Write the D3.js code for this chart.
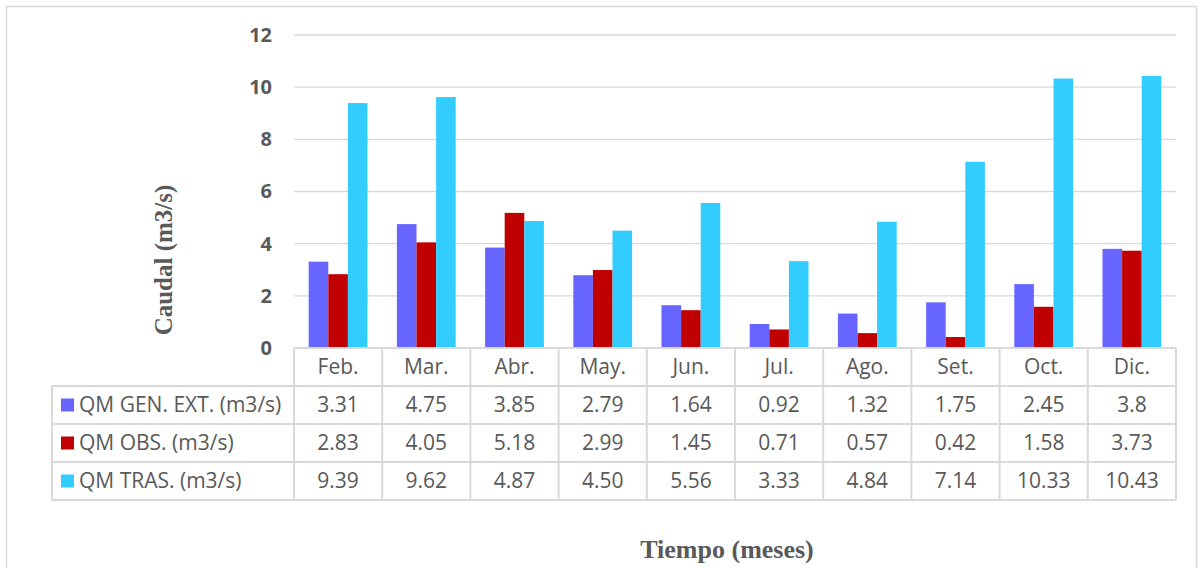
<!DOCTYPE html>
<html>
<head>
<meta charset="utf-8">
<script src="https://cdn.jsdelivr.net/npm/d3@7"></script>
<style>
  body { margin: 0; background: #fff; }
  svg { display: block; }
</style>
</head>
<body>
<script>
const width = 1203;
const height = 568;

const months = ['Feb.', 'Mar.', 'Abr.', 'May.', 'Jun.', 'Jul.', 'Ago.', 'Set.', 'Oct.', 'Dic.'];
const seriesNames = ['QM GEN. EXT. (m3/s)', 'QM OBS. (m3/s)', 'QM TRAS. (m3/s)'];
const genExt = [3.31, 4.75, 3.85, 2.79, 1.64, 0.92, 1.32, 1.75, 2.45, 3.8];
const obs = [2.83, 4.05, 5.18, 2.99, 1.45, 0.71, 0.57, 0.42, 1.58, 3.73];
const tras = [9.39, 9.62, 4.87, 4.50, 5.56, 3.33, 4.84, 7.14, 10.33, 10.43];
const tableText = [
    ['3.31', '4.75', '3.85', '2.79', '1.64', '0.92', '1.32', '1.75', '2.45', '3.8'],
    ['2.83', '4.05', '5.18', '2.99', '1.45', '0.71', '0.57', '0.42', '1.58', '3.73'],
    ['9.39', '9.62', '4.87', '4.50', '5.56', '3.33', '4.84', '7.14', '10.33', '10.43']
];
const yTicks = [0, 2, 4, 6, 8, 10, 12];
const colors = ['#6666ff', '#c00000', '#33ccff'];
const series = [genExt, obs, tras];

const plotLeft = 294, plotRight = 1176, plotTop = 35, plotBottom = 348;
const rowH = 38;
const tableLeft = 52;
const gridColor = '#d9d9d9';
const textColor = '#595959';

const svg = d3.select('body').append('svg')
    .attr('width', width)
    .attr('height', height);

// outer frame
svg.append('rect')
    .attr('x', 6.5).attr('y', 6.5)
    .attr('width', 1190).attr('height', 600)
    .attr('fill', 'none')
    .attr('stroke', gridColor)
    .attr('stroke-width', 1.5);

const x = d3.scaleBand().domain(months).range([plotLeft, plotRight]);
const xInner = d3.scaleBand().domain(d3.range(3)).range([0, x.bandwidth()]).paddingInner(0).paddingOuter(0.75);
const y = d3.scaleLinear().domain([0, 12]).range([plotBottom, plotTop]);

// gridlines
svg.append('g')
    .selectAll('line')
    .data(yTicks.filter(d => d > 0))
    .enter()
    .append('line')
    .attr('x1', plotLeft)
    .attr('x2', plotRight)
    .attr('y1', d => y(d))
    .attr('y2', d => y(d))
    .attr('stroke', gridColor)
    .attr('stroke-width', 1.3);

// y axis labels
const yAxis = d3.axisLeft(y).tickValues(yTicks).tickSize(0).tickPadding(0);
const yg = svg.append('g')
    .attr('transform', `translate(${plotLeft - 22}, 0)`)
    .call(yAxis);
yg.select('.domain').remove();
yg.selectAll('text')
    .attr('fill', textColor)
    .style('font-family', '"Open Sans", sans-serif')
    .style('font-weight', 'bold')
    .style('font-size', '20px');

// bars
series.forEach((vals, s) => {
    svg.append('g')
        .selectAll('rect')
        .data(vals)
        .enter()
        .append('rect')
        .attr('x', (d, i) => x(months[i]) + xInner(s))
        .attr('y', d => y(d))
        .attr('width', xInner.bandwidth())
        .attr('height', d => plotBottom - y(d))
        .attr('fill', colors[s]);
});

// data table
const table = svg.append('g');
const lineStyle = sel => sel.attr('stroke', gridColor).attr('stroke-width', 2).attr('fill', 'none');

// horizontal lines
[0, 1, 2, 3, 4].forEach(r => {
    table.append('line')
        .attr('x1', r === 0 ? plotLeft : tableLeft)
        .attr('x2', plotRight)
        .attr('y1', plotBottom + r * rowH)
        .attr('y2', plotBottom + r * rowH)
        .call(lineStyle);
});
// vertical lines
months.forEach(m => {
    table.append('line')
        .attr('x1', x(m)).attr('x2', x(m))
        .attr('y1', plotBottom).attr('y2', plotBottom + 4 * rowH)
        .call(lineStyle);
});
table.append('line')
    .attr('x1', plotRight).attr('x2', plotRight)
    .attr('y1', plotBottom).attr('y2', plotBottom + 4 * rowH)
    .call(lineStyle);
table.append('line')
    .attr('x1', tableLeft).attr('x2', tableLeft)
    .attr('y1', plotBottom + rowH).attr('y2', plotBottom + 4 * rowH)
    .call(lineStyle);

const cellFont = sel => sel
    .attr('fill', textColor)
    .style('font-family', '"Open Sans", sans-serif')
    .style('font-size', '21px');

// header
table.selectAll('.hdr')
    .data(months)
    .enter()
    .append('text')
    .attr('class', 'hdr')
    .attr('x', d => x(d) + x.bandwidth() / 2)
    .attr('y', plotBottom + rowH / 2)
    .attr('dy', '0.35em')
    .attr('text-anchor', 'middle')
    .text(d => d)
    .call(cellFont);

// rows
tableText.forEach((row, r) => {
    const cy = plotBottom + (r + 1) * rowH + rowH / 2;
    table.append('rect')
        .attr('x', tableLeft + 9)
        .attr('y', cy - 6.5)
        .attr('width', 13)
        .attr('height', 13)
        .attr('fill', colors[r]);
    table.append('text')
        .attr('x', tableLeft + 27)
        .attr('y', cy)
        .attr('dy', '0.35em')
        .text(seriesNames[r])
        .call(cellFont);
    table.append('g')
        .selectAll('text')
        .data(row)
        .enter()
        .append('text')
        .attr('x', (d, i) => x(months[i]) + x.bandwidth() / 2)
        .attr('y', cy)
        .attr('dy', '0.35em')
        .attr('text-anchor', 'middle')
        .text(d => d)
        .call(cellFont);
});

// axis titles
svg.append('text')
    .attr('transform', 'translate(172, 260) rotate(-90)')
    .attr('text-anchor', 'middle')
    .attr('fill', textColor)
    .style('font-family', '"Liberation Serif", serif')
    .style('font-weight', 'bold')
    .style('font-size', '25px')
    .text('Caudal (m3/s)');

svg.append('text')
    .attr('x', 727)
    .attr('y', 558)
    .attr('text-anchor', 'middle')
    .attr('fill', textColor)
    .style('font-family', '"Liberation Serif", serif')
    .style('font-weight', 'bold')
    .style('font-size', '26px')
    .text('Tiempo (meses)');
</script>
</body>
</html>
